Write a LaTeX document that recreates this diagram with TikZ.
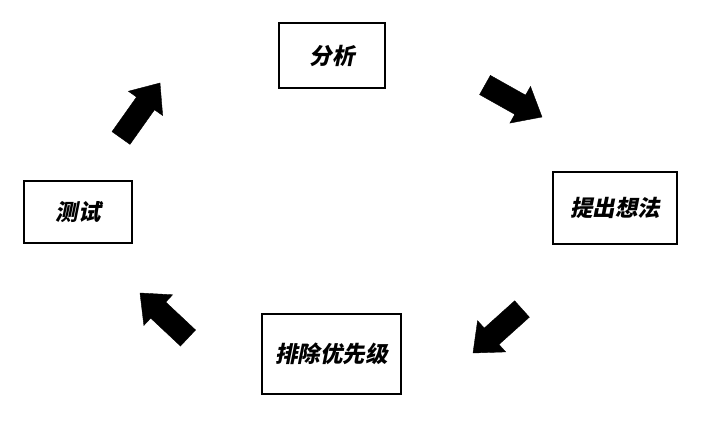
\documentclass[tikz,border=0pt]{standalone}
\usepackage{fontspec}
\newfontfamily\cjk[FakeSlant=0.2]{Noto Sans CJK SC}
\usetikzlibrary{calc}
\tikzset{
  stagebox/.style={draw=black, line width=1.6pt, fill=white, font=\cjk\bfseries\fontsize{22.5}{26}\selectfont, inner sep=0pt},
  blockarrow/.style={fill=black, draw=black, line width=0.4pt, line join=miter}
}
\newcommand{\blockarr}[5]{% tail, tip, shaft half-width, head half-width, head length
  \coordinate (bT) at (#1);
  \coordinate (bP) at (#2);
  \coordinate (bH) at ($(bP)!#5!(bT)$);
  \fill[blockarrow] ($(bT)!#3!90:(bP)$) -- ($(bH)!#3!90:(bP)$) -- ($(bH)!#4!90:(bP)$) -- (bP)
    -- ($(bH)!#4!-90:(bP)$) -- ($(bH)!#3!-90:(bP)$) -- ($(bT)!#3!-90:(bP)$) -- cycle;
}
\begin{document}
\begin{tikzpicture}[x=1pt,y=-1pt]
\useasboundingbox[fill=white] (0,0) rectangle (712,422);
\node[stagebox, minimum width=106pt, minimum height=65pt] (fx) at (332,55.5) {分析};
\node[stagebox, minimum width=124pt, minimum height=72pt] (tc) at (615,208) {提出想法};
\node[stagebox, minimum width=139pt, minimum height=80pt] (pc) at (331.5,354) {排除优先级};
\node[stagebox, minimum width=108pt, minimum height=62pt] (cs) at (78,212) {测试};
\blockarr{485,85}{542,117}{11pt}{21pt}{25pt}
\blockarr{522,309}{473,353}{11pt}{21pt}{25pt}
\blockarr{188,338}{140,293}{11pt}{21pt}{25pt}
\blockarr{121,138}{160,83}{11pt}{21pt}{25pt}
\end{tikzpicture}
\end{document}
